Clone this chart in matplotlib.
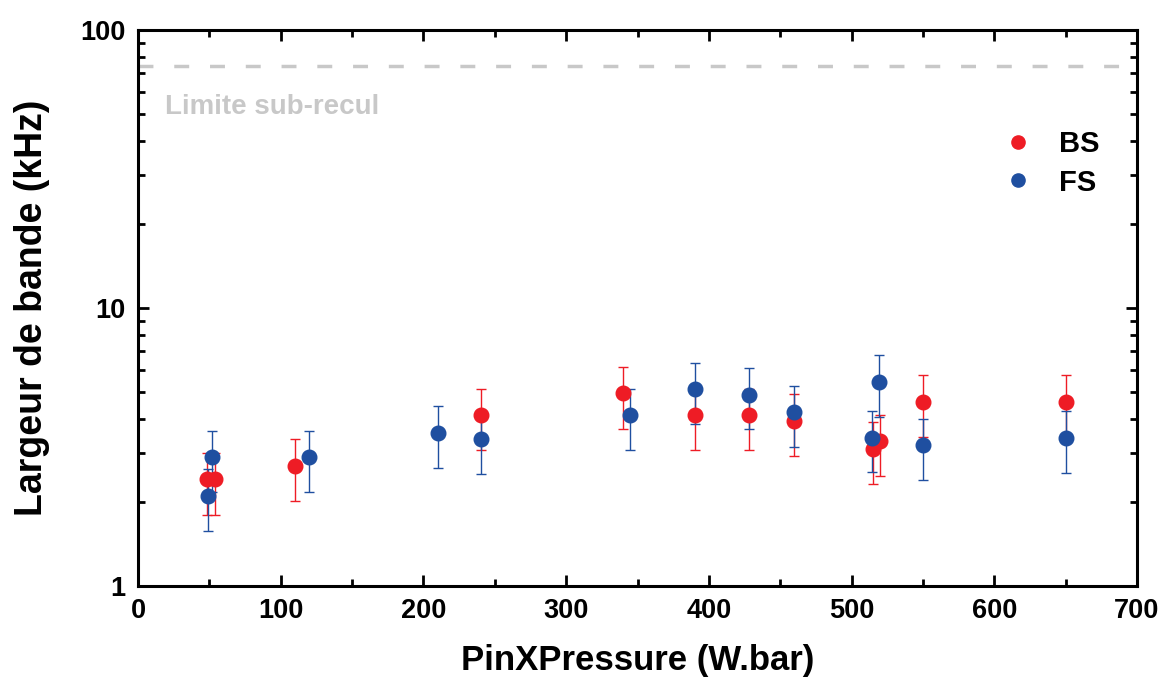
import matplotlib
matplotlib.use("Agg")
import matplotlib.pyplot as plt
import numpy as np
from matplotlib.lines import Line2D
from matplotlib.ticker import LogLocator, NullFormatter, FixedLocator, MultipleLocator

plt.rcParams['font.family'] = ['Liberation Sans', 'DejaVu Sans']

# BS series (red)
bs_x = [48, 54, 110, 240, 340, 390, 428, 460, 515, 520, 550, 650]
bs_y = [2.42, 2.42, 2.71, 4.13, 4.93, 4.12, 4.12, 3.91, 3.11, 3.31, 4.58, 4.58]
bs_hi = [3.02, 3.02, 3.37, 5.13, 6.13, 5.12, 5.12, 4.89, 3.88, 4.12, 5.73, 5.73]
bs_lo = [1.80, 1.80, 2.03, 3.08, 3.68, 3.08, 3.08, 2.93, 2.33, 2.49, 3.44, 3.44]

# FS series (blue)
fs_x = [49, 52, 120, 210, 240, 345, 390, 428, 460, 514, 519, 550, 650]
fs_y = [2.11, 2.91, 2.91, 3.56, 3.37, 4.12, 5.12, 4.88, 4.23, 3.41, 5.43, 3.21, 3.41]
fs_hi = [2.63, 3.62, 3.62, 4.45, 4.18, 5.12, 6.36, 6.08, 5.25, 4.26, 6.78, 4.00, 4.25]
fs_lo = [1.58, 2.18, 2.18, 2.66, 2.52, 3.08, 3.84, 3.67, 3.16, 2.56, 4.06, 2.41, 2.55]

limit_value = 74.0
limit_label = "Limite sub-recul"
x_label = "PinXPressure (W.bar)"
y_label = "Largeur de bande (kHz)"

red = "#EE1C25"
blue = "#1F4FA0"

fig = plt.figure(figsize=(11.64, 6.78), dpi=100)
ax = fig.add_axes([0.1186, 0.1357, 0.8582, 0.8201])

def yerr(y, lo, hi):
    y = np.array(y); return [y - np.array(lo), np.array(hi) - y]

ax.errorbar(bs_x, bs_y, yerr=yerr(bs_y, bs_lo, bs_hi), fmt='o', color=red,
            ms=10.5, ecolor=red, elinewidth=1.0, capsize=3.6, capthick=1.0,
            zorder=3)
ax.errorbar(fs_x, fs_y, yerr=yerr(fs_y, fs_lo, fs_hi), fmt='o', color=blue,
            ms=10.5, ecolor=blue, elinewidth=1.0, capsize=3.6, capthick=1.0,
            zorder=3)

ax.axhline(limit_value, color="#C8C8C8", lw=2.5, ls=(0, (4.3, 6)), zorder=1)
ax.text(0.027, 0.862, limit_label, transform=ax.transAxes, color="#C8C8C8",
        fontsize=20, fontweight='bold', va='center', ha='left')

ax.set_yscale('log')
ax.set_ylim(1, 100)
ax.set_xlim(0, 700)
ax.xaxis.set_major_locator(MultipleLocator(100))
ax.xaxis.set_minor_locator(MultipleLocator(50))
ax.yaxis.set_major_locator(FixedLocator([1, 10, 100]))
ax.yaxis.set_minor_locator(LogLocator(base=10, subs=np.arange(2, 10)))
ax.yaxis.set_minor_formatter(NullFormatter())
ax.set_yticklabels(["1", "10", "100"])

for s in ax.spines.values():
    s.set_linewidth(2.2)
ax.tick_params(which='both', direction='in', top=True, right=True, width=2.0)
ax.tick_params(which='major', length=8, labelsize=19.5, pad=9)
ax.tick_params(which='minor', length=5)
for lab in ax.get_xticklabels() + ax.get_yticklabels():
    lab.set_fontweight('bold')

ax.set_xlabel(x_label, fontsize=25, fontweight='bold', labelpad=14)
ax.set_ylabel(y_label, fontsize=27, fontweight='bold', labelpad=22)

handles = [Line2D([], [], ls='none', marker='o', ms=9.5, color=red),
           Line2D([], [], ls='none', marker='o', ms=9.5, color=blue)]
leg = ax.legend(handles, ["BS", "FS"], loc='center left',
                bbox_to_anchor=(0.855, 0.76), frameon=False,
                fontsize=21, handletextpad=0.9, labelspacing=0.35,
                handlelength=1.0, borderaxespad=0)
for t in leg.get_texts():
    t.set_fontweight('bold')

fig.savefig("out.png", dpi=100)
